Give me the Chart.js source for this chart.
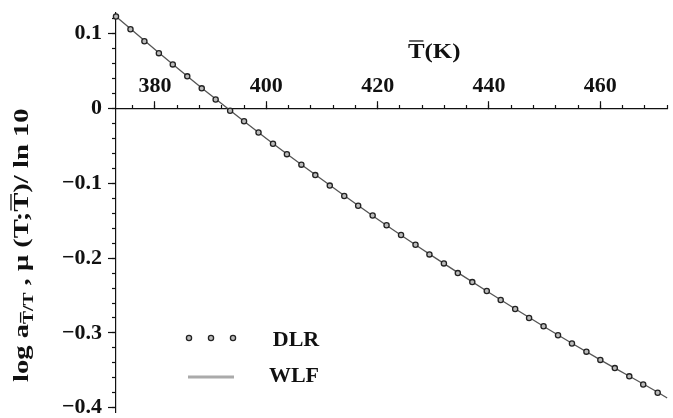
<!DOCTYPE html>
<html>
<head>
<meta charset="utf-8">
<script src="https://cdn.jsdelivr.net/npm/chart.js@4.4.1/dist/chart.umd.min.js"></script>
<style>
  html, body { margin: 0; padding: 0; background: #fff; }
  #wrap { width: 673px; height: 418px; }
</style>
</head>
<body>
<div id="wrap"><canvas id="chart" width="673" height="418"></canvas></div>
<script>
// DLR points: T bar (K) and log a
const dlrT = [373.0, 375.6, 378.1, 380.7, 383.2, 385.8, 388.4, 390.9, 393.5, 396.0,
  398.6, 401.2, 403.7, 406.3, 408.8, 411.4, 414.0, 416.5, 419.1, 421.6,
  424.2, 426.8, 429.3, 431.9, 434.4, 437.0, 439.6, 442.1, 444.7, 447.2,
  449.8, 452.4, 454.9, 457.5, 460.0, 462.6, 465.2, 467.7, 470.3];
const dlrLogA = [0.123, 0.106, 0.090, 0.074, 0.059, 0.043, 0.027, 0.012, -0.003, -0.017,
  -0.032, -0.047, -0.061, -0.075, -0.089, -0.103, -0.117, -0.130, -0.143, -0.156,
  -0.169, -0.182, -0.195, -0.207, -0.220, -0.232, -0.244, -0.256, -0.268, -0.280,
  -0.291, -0.303, -0.314, -0.325, -0.336, -0.347, -0.358, -0.369, -0.380];

// WLF curve
const wlfT = [373, 380, 390, 400, 410, 420, 430, 440, 450, 460, 470, 472];
const wlfLogA = [0.123, 0.079, 0.018, -0.040, -0.095, -0.148, -0.198, -0.246, -0.292, -0.336, -0.378, -0.387];

// axis ticks
const xMajorTicks = [380, 400, 420, 440, 460];
const xMinorTicks = [376, 380, 384, 388, 392, 396, 400, 404, 408, 412, 416, 420, 424,
  428, 432, 436, 440, 444, 448, 452, 456, 460, 464, 468, 472];
const yMajorTicks = [0.1, 0, -0.1, -0.2, -0.3, -0.4];
const yMinorTicks = [0.12, 0.1, 0.08, 0.06, 0.04, 0.02, 0, -0.02, -0.04, -0.06, -0.08,
  -0.1, -0.12, -0.14, -0.16, -0.18, -0.2, -0.22, -0.24, -0.26, -0.28, -0.3,
  -0.32, -0.34, -0.36, -0.38, -0.4];

const legendLabels = ["DLR", "WLF"];

const serif = "'Liberation Serif', 'Times New Roman', serif";
const tickFont = { family: serif, size: 22, weight: "bold" };
const ink = "#111";

function fixedTicks(list) {
  return (axis) => { axis.ticks = list.map(v => ({ value: v })); };
}

// draws a line of text with subscript / overbar pieces
function drawRich(ctx, segs) {
  let x = 0;
  segs.forEach(s => {
    ctx.font = "bold " + s.size + "px " + serif;
    const dy = s.dy || 0;
    ctx.fillText(s.text, x, dy);
    if (s.bar !== undefined) {
      const pre = ctx.measureText(s.text.slice(0, s.bar)).width;
      const w = ctx.measureText(s.text[s.bar]).width;
      const top = dy - s.size * 0.66 - 2.5;
      ctx.beginPath();
      ctx.lineWidth = 1.3;
      ctx.moveTo(x + pre + 1, top);
      ctx.lineTo(x + pre + w - 1, top);
      ctx.stroke();
    }
    x += ctx.measureText(s.text).width;
  });
}

const annotate = {
  id: "annotate",
  afterDraw(chart) {
    const ctx = chart.ctx;
    ctx.save();
    ctx.fillStyle = ink;
    ctx.strokeStyle = ink;
    ctx.textBaseline = "alphabetic";

    // x title
    ctx.save();
    ctx.translate(408, 58);
    ctx.scale(1.13, 1);
    drawRich(ctx, [{ text: "T(K)", size: 22, bar: 0 }]);
    ctx.restore();

    // y title
    ctx.save();
    ctx.translate(28, 382);
    ctx.rotate(-Math.PI / 2);
    ctx.scale(1.3, 1);
    drawRich(ctx, [
      { text: "log a", size: 22 },
      { text: "T/T", size: 15, dy: 5, bar: 0 },
      { text: " , \u03bc (T;", size: 22 },
      { text: "T", size: 22, bar: 0 },
      { text: ")/ ln 10", size: 22 }
    ]);
    ctx.restore();

    // legend
    ctx.font = "bold 22px " + serif;
    ctx.textAlign = "center";
    ctx.fillText(legendLabels[0], 296, 346);
    ctx.fillText(legendLabels[1], 294, 382);
    [189, 211, 233].forEach(px => {
      ctx.beginPath();
      ctx.arc(px, 338, 2.6, 0, Math.PI * 2);
      ctx.fillStyle = "#bbb";
      ctx.fill();
      ctx.lineWidth = 1.3;
      ctx.strokeStyle = "#222";
      ctx.stroke();
    });
    ctx.beginPath();
    ctx.strokeStyle = "#aaa";
    ctx.lineWidth = 3;
    ctx.moveTo(188, 377);
    ctx.lineTo(234, 377);
    ctx.stroke();
    ctx.restore();
  }
};

const ctx = document.getElementById("chart").getContext("2d");
new Chart(ctx, {
  type: "scatter",
  data: {
    datasets: [
      {
        label: legendLabels[0],
        data: dlrT.map((t, i) => ({ x: t, y: dlrLogA[i] })),
        showLine: false,
        pointRadius: 2.6,
        pointBorderWidth: 1.3,
        pointBorderColor: "#222",
        pointBackgroundColor: "#bbb",
        clip: false,
        order: 0
      },
      {
        label: legendLabels[1],
        data: wlfT.map((t, i) => ({ x: t, y: wlfLogA[i] })),
        showLine: true,
        borderColor: "#555",
        borderWidth: 1.3,
        pointRadius: 0,
        cubicInterpolationMode: "monotone",
        clip: false,
        order: 1
      }
    ]
  },
  options: {
    responsive: false,
    animation: false,
    layout: { padding: { top: 13, left: 0, right: 0, bottom: 0 } },
    plugins: {
      legend: { display: false },
      tooltip: { enabled: false },
      title: { display: false }
    },
    scales: {
      x: {
        type: "linear",
        min: 373,
        max: 472.1,
        position: { y: 0 },
        afterBuildTicks: fixedTicks(xMajorTicks),
        grid: { drawOnChartArea: false, tickLength: -8, color: ink, tickWidth: 1.2 },
        border: { color: ink, width: 1.2 },
        ticks: { font: tickFont, color: ink, padding: -27, maxRotation: 0, autoSkip: false }
      },
      xMinor: {
        type: "linear",
        axis: "x",
        min: 373,
        max: 472.1,
        position: { y: 0 },
        afterBuildTicks: fixedTicks(xMinorTicks),
        grid: { drawOnChartArea: false, tickLength: -4, color: ink, tickWidth: 1.2 },
        border: { display: false },
        ticks: { display: false }
      },
      y: {
        type: "linear",
        min: -0.4066,
        max: 0.1277,
        position: "left",
        afterBuildTicks: fixedTicks(yMajorTicks),
        afterFit: (axis) => { axis.width = 116; axis.paddingTop = 0; axis.paddingBottom = 0; },
        grid: { drawOnChartArea: false, tickLength: 8, color: ink, tickWidth: 1.2 },
        border: { color: ink, width: 1.2 },
        ticks: {
          font: tickFont,
          color: ink,
          padding: 6,
          autoSkip: false,
          callback: (v) => v === 0 ? "0" : (v < 0 ? "\u2212" : "") + Math.abs(v).toFixed(1)
        }
      },
      yMinor: {
        type: "linear",
        axis: "y",
        min: -0.4066,
        max: 0.1277,
        position: { x: 373 },
        afterBuildTicks: fixedTicks(yMinorTicks),
        grid: { drawOnChartArea: false, tickLength: 4, color: ink, tickWidth: 1.2 },
        border: { display: false },
        ticks: { display: false }
      }
    }
  },
  plugins: [annotate]
});
</script>
</body>
</html>
